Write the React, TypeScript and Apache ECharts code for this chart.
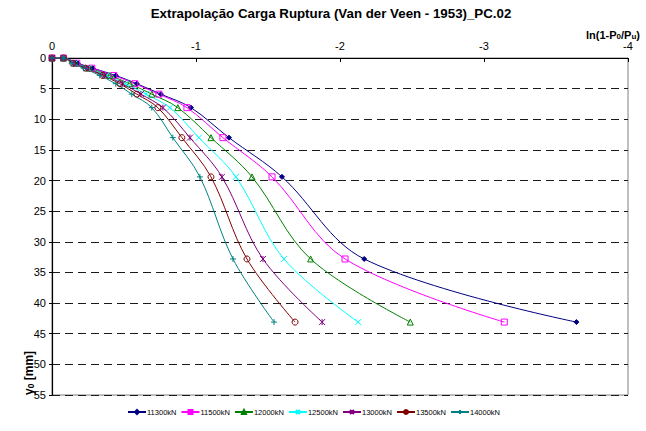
import React, { useEffect, useRef } from "react";
import * as echarts from "echarts";

const yValues = [0, 0, 0.85, 1.66, 2.85, 4.2, 5.9, 8.1, 13.0, 19.4, 32.8, 43.1];

const seriesNames = ["11300kN", "11500kN", "12000kN", "12500kN", "13000kN", "13500kN", "14000kN"];

const x11300 = [0, -0.08, -0.179, -0.283, -0.443, -0.589, -0.756, -0.965, -1.229, -1.597, -2.168, -3.642];
const x11500 = [0, -0.08, -0.172, -0.276, -0.429, -0.575, -0.742, -0.937, -1.187, -1.528, -2.035, -3.141];
const x12000 = [0, -0.08, -0.165, -0.262, -0.401, -0.54, -0.693, -0.874, -1.104, -1.389, -1.796, -2.488];
const x12500 = [0, -0.08, -0.158, -0.248, -0.38, -0.512, -0.652, -0.819, -1.02, -1.277, -1.611, -2.126];
const x13000 = [0, -0.08, -0.151, -0.241, -0.366, -0.491, -0.617, -0.77, -0.958, -1.18, -1.465, -1.876];
const x13500 = [0, -0.08, -0.144, -0.234, -0.353, -0.471, -0.589, -0.735, -0.902, -1.104, -1.354, -1.688];
const x14000 = [0, -0.08, -0.137, -0.22, -0.332, -0.443, -0.554, -0.693, -0.839, -1.027, -1.257, -1.542];

const xTicks = [0, -1, -2, -3, -4];
const yTicks = [0, 5, 10, 15, 20, 25, 30, 35, 40, 45, 50, 55];

const allX = [x11300, x11500, x12000, x12500, x13000, x13500, x14000];

const colors = ["#000080", "#FF00FF", "#008000", "#00FFFF", "#800080", "#800000", "#008080"];

const XPATH = "path://M0,0L10,10M10,0L0,10";
const STARPATH = "path://M0,0L10,10M10,0L0,10M5,0L5,10";
const PLUSPATH = "path://M5,0L5,10M0,5L10,5";

const symbols = ["diamond", "rect", "triangle", XPATH, STARPATH, "circle", PLUSPATH];
const symbolSizes = [5, 6, 6, 6, 6, 6, 6];
const hollow = [false, true, true, true, true, true, true];

const FONT = "Liberation Sans, Arial, sans-serif";

export default function App() {
  const ref = useRef<HTMLDivElement>(null);
  useEffect(() => {
    document.body.style.margin = "0";
    if (!ref.current) return;
    const chart = echarts.init(ref.current, undefined, { renderer: "svg" });
    const series = seriesNames.map((name, i) => ({
      name,
      type: "line",
      data: allX[i].map((x, j) => [x, yValues[j]]),
      smooth: 0.35,
      symbol: symbols[i],
      symbolSize: symbolSizes[i],
      showAllSymbol: true,
      color: colors[i],
      lineStyle: { color: colors[i], width: 1 },
      itemStyle: {
        color: hollow[i] ? "rgba(255,255,255,0)" : colors[i],
        borderColor: colors[i],
        borderWidth: 1,
      },
      emphasis: { disabled: true },
    }));
    chart.setOption({
      animation: false,
      backgroundColor: "#ffffff",
      textStyle: { fontFamily: FONT },
      title: {
        text: "Extrapolação Carga Ruptura (Van der Veen - 1953)_PC.02",
        left: 326,
        textAlign: "center",
        top: 2,
        textStyle: { fontSize: 13.3, fontWeight: "bold", color: "#000", fontFamily: FONT },
      },
      grid: {
        left: 52,
        right: 18,
        top: 58,
        bottom: 36,
        show: true,
        borderColor: "#808080",
        borderWidth: 1,
        backgroundColor: "transparent",
      },
      xAxis: {
        type: "value",
        position: "top",
        min: -4,
        max: 0,
        interval: 1,
        inverse: true,
        axisLine: { show: true, lineStyle: { color: "#000", width: 1.2 } },
        axisTick: { show: true, inside: true, length: 4, lineStyle: { color: "#000" } },
        axisLabel: {
          color: "#000",
          fontSize: 11,
          fontFamily: FONT,
          margin: 7,
          formatter: (v: number) => (xTicks.includes(v) ? String(v) : ""),
        },
        splitLine: { show: false },
      },
      yAxis: {
        type: "value",
        min: 0,
        max: 55,
        interval: 5,
        inverse: true,
        axisLine: { show: true, lineStyle: { color: "#000", width: 1.2 } },
        axisTick: { show: true, inside: false, length: 3, lineStyle: { color: "#000" } },
        axisLabel: {
          color: "#000",
          fontSize: 11,
          fontFamily: FONT,
          margin: 6,
          formatter: (v: number) => (yTicks.includes(v) ? String(v) : ""),
        },
        splitLine: { show: true, lineStyle: { color: "#1a1a1a", width: 1, type: [8, 5] } },
      },
      legend: {
        data: seriesNames,
        top: 403,
        left: 122,
        itemWidth: 18,
        itemHeight: 5,
        itemGap: 4,
        textStyle: { fontSize: 7.5, color: "#000", fontFamily: FONT, padding: [0, 0, 0, -4] },
      },
      graphic: [
        {
          type: "text",
          right: 6,
          top: 29,
          style: {
            text: "ln(1-P{sub|0}/P{sub|u})",
            font: "bold 11px Liberation Sans, Arial, sans-serif",
            fill: "#000",
            rich: {
              sub: { fontSize: 8, fontWeight: "bold", verticalAlign: "bottom", lineHeight: 8, fill: "#000" },
            },
          },
        },
        {
          type: "text",
          x: 29,
          y: 395,
          rotation: Math.PI / 2,
          style: {
            text: "y{sub|0} [mm]",
            font: "bold 12px Liberation Sans, Arial, sans-serif",
            fill: "#000",
            align: "left",
            verticalAlign: "middle",
            rich: {
              sub: { fontSize: 8.5, fontWeight: "bold", verticalAlign: "bottom", lineHeight: 8, fill: "#000" },
            },
          },
        },
      ],
      series,
    });
    return () => chart.dispose();
  }, []);
  return <div ref={ref} style={{ width: 646, height: 431 }} />;
}
